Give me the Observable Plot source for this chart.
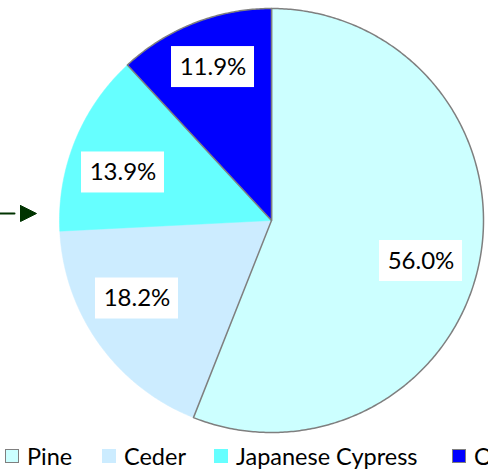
<!DOCTYPE html>
<html>
<head>
<meta charset="utf-8">
<script src="https://cdn.jsdelivr.net/npm/d3@7"></script>
<script src="https://cdn.jsdelivr.net/npm/@observablehq/plot@0.6"></script>
<style>
  html, body { margin: 0; padding: 0; background: #fff; overflow: hidden; }
  #chart { width: 488px; height: 469px; position: relative; overflow: hidden; }
  .legend { position: relative; height: 27px; font-family: Lato, "Open Sans", sans-serif; font-size: 23.5px; white-space: nowrap; color: #000; }
  .item { position: absolute; top: 0; display: flex; align-items: center; height: 27px; }
  .sw { width: 14px; height: 14px; box-sizing: border-box; margin-right: 8px; }
</style>
</head>
<body>
<div id="chart"></div>
<script>
const categories = ["Pine", "Ceder", "Japanese Cypress", "Other"];
const shares = [56.0, 18.2, 13.9, 11.9];
const labels = ["56.0%", "18.2%", "13.9%", "11.9%"];
const colors = ["#CCFFFF", "#CCECFF", "#66FFFF", "#0000FF"];
const borders = ["#7F7F7F", null, null, "#7F7F7F"];

// layout (pixels): small nudges of the label boxes from the slice mid-angle point
const labelNudge = [[-4.6, 11.1], [-7, -13.4], [-3.2, 11.1], [-1.2, -7.4]];

const W = 488, H = 442;
const cx = 271, cy = 220, R = 212;
const xDomain = [-cx / R, (W - cx) / R];
const yDomain = [-(H - cy) / R, cy / R];

const pie = d3.pie().sort(null).value(d => d)(shares);
const slices = pie.map((p, i) => {
  const pts = [[0, 0]];
  const n = Math.max(8, Math.ceil((p.endAngle - p.startAngle) / 0.01));
  for (let k = 0; k <= n; k++) {
    const a = p.startAngle + (p.endAngle - p.startAngle) * k / n;
    pts.push([Math.sin(a), Math.cos(a)]);
  }
  pts.push([0, 0]);
  return {i, pts, mid: (p.startAngle + p.endAngle) / 2};
});

const lr = 0.74;
const labelData = slices.map(s => ({
  label: labels[s.i],
  x: lr * Math.sin(s.mid) + labelNudge[s.i][0] / R,
  y: lr * Math.cos(s.mid) - labelNudge[s.i][1] / R
}));
const bw = 41.5 / R, bh = 20.5 / R;

const px = (x) => xDomain[0] + x / R;
const py = (y) => (cy - y) / R;
const arrowLine = [[px(0), py(213)], [px(14), py(213)]];
const arrowHead = [[px(20), py(205)], [px(36), py(213)], [px(20), py(221)], [px(20), py(205)]];

const order = [1, 2, 0, 3];
const marks = [];
for (const i of order) {
  const s = slices[i];
  marks.push(Plot.line(s.pts, {
    x: d => d[0], y: d => d[1],
    fill: colors[i],
    stroke: borders[i] || colors[i],
    strokeWidth: borders[i] ? 1.5 : 0.5,
    strokeLinejoin: "round"
  }));
}
marks.push(Plot.rect(labelData, {
  x1: d => d.x - bw, x2: d => d.x + bw,
  y1: d => d.y - bh, y2: d => d.y + bh,
  fill: "white"
}));
marks.push(Plot.text(labelData, {
  x: "x", y: "y", text: "label",
  fontSize: 24, fontFamily: "Lato, 'Open Sans', sans-serif", fill: "#000",
  textAnchor: "middle", lineAnchor: "middle"
}));
marks.push(Plot.line(arrowLine, {x: d => d[0], y: d => d[1], stroke: "#003300", strokeWidth: 2}));
marks.push(Plot.line(arrowHead, {x: d => d[0], y: d => d[1], fill: "#003300", stroke: "#003300", strokeWidth: 1}));

const plot = Plot.plot({
  width: W, height: H,
  margin: 0,
  x: {domain: xDomain, axis: null},
  y: {domain: yDomain, axis: null},
  style: {background: "white", overflow: "visible"},
  marks
});
const chart = document.getElementById("chart");
chart.appendChild(plot);

const legend = document.createElement("div");
legend.className = "legend";
const lefts = [5, 102, 214, 452];
categories.forEach((c, i) => {
  const it = document.createElement("div");
  it.className = "item";
  it.style.left = lefts[i] + "px";
  const sw = document.createElement("div");
  sw.className = "sw";
  sw.style.background = colors[i];
  if (borders[i]) sw.style.border = "1.5px solid " + borders[i];
  const t = document.createElement("span");
  t.textContent = c;
  it.appendChild(sw);
  it.appendChild(t);
  legend.appendChild(it);
});
chart.appendChild(legend);
</script>
</body>
</html>
